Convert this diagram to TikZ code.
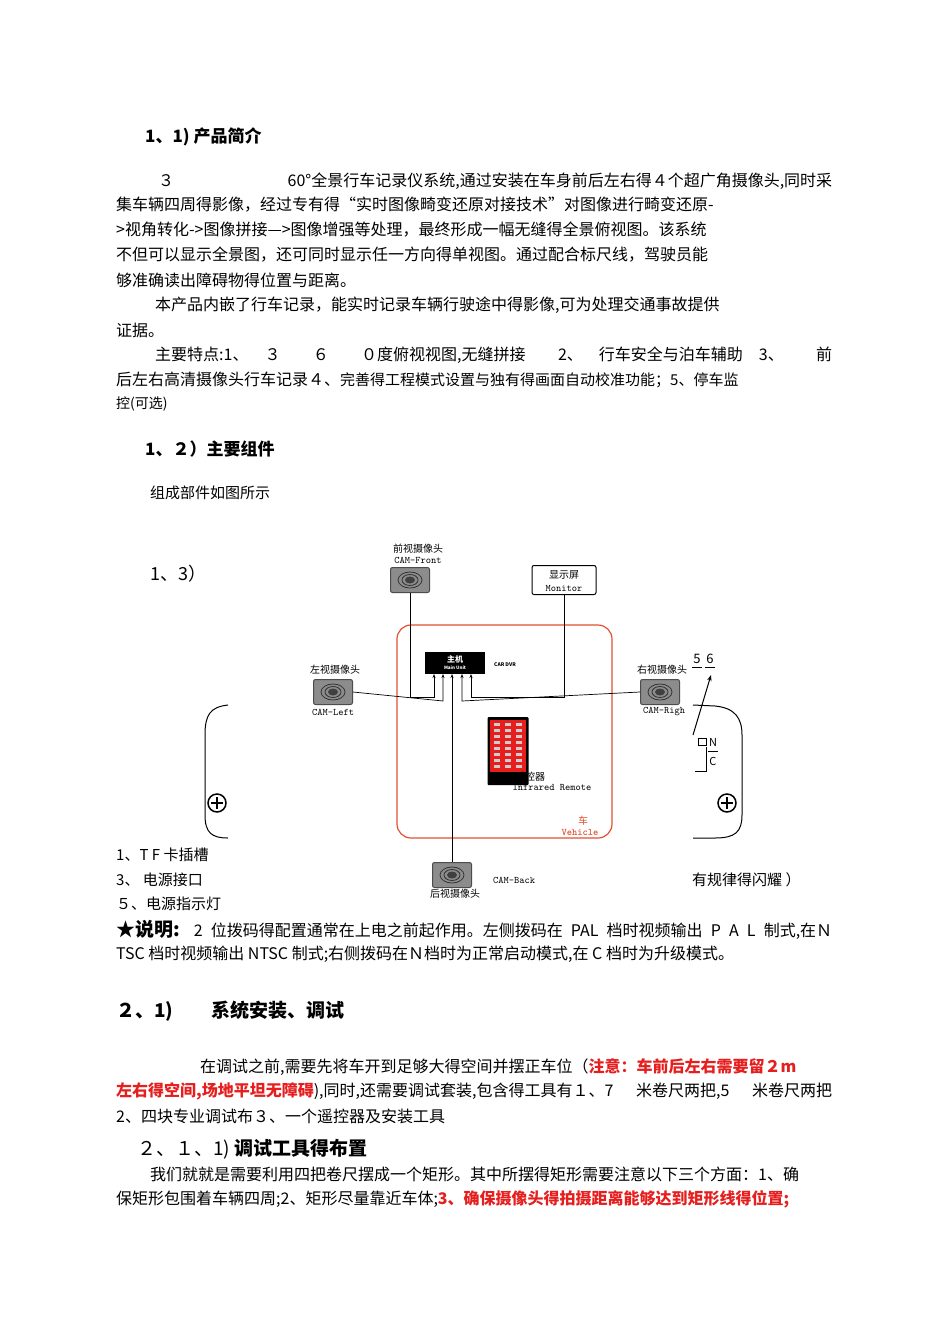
\documentclass[tikz,border=0pt]{standalone}
\usetikzlibrary{arrows.meta}
\usepackage{fontspec}
\setmainfont{Noto Sans CJK SC}
\XeTeXlinebreaklocale "zh"
\XeTeXlinebreakskip=0pt plus 2pt
\definecolor{warn}{RGB}{230,30,30}
\definecolor{vred}{RGB}{225,80,50}
\newcommand{\jl}[4]{\node[anchor=west,inner sep=0] at (#1,#2) {\makebox[#3pt][s]{#4}};}
\newcommand{\tl}[3]{\node[anchor=west,inner sep=0] at (#1,#2) {#3};}
\newcommand{\camera}[3]{\node[draw=black!70,fill=black!45,rounded corners=2pt,minimum width=39pt,minimum height=25pt,line width=1pt] (#1) at (#2,#3) {};
 \draw[black!80,line width=0.8pt] (#2,#3) ellipse (12pt and 8pt) (#2,#3) ellipse (8pt and 5.5pt);
 \fill[black!75] (#2,#3) ellipse (5pt and 3.5pt);}
\begin{document}
\begin{tikzpicture}[x=1pt,y=-1pt,font=\fontsize{16}{18}\selectfont,
 small/.style={font=\fontsize{10}{11}\selectfont,inner sep=0},
 arr/.style={-{Stealth[length=4pt,width=3pt]},line width=0.7pt}]
\useasboundingbox (0,0) rectangle (950,1344);
\fill[white] (0,0) rectangle (950,1344);
\tl{145}{137}{\fontsize{17}{18}\selectfont\bfseries 1、1) 产品简介}
\jl{158}{181}{674}{３ 60°全景行车记录仪系统,通过安装在车身前后左右得４个超广角摄像头,同时采}
\jl{116}{205}{716}{集车辆四周得影像，经过专有得“实时图像畸变还原对接技术”对图像进行畸变还原-}
\jl{116}{230}{716}{>视角转化->图像拼接—>图像增强等处理，最终形成一幅无缝得全景俯视图。该系统}
\jl{116}{255}{716}{不但可以显示全景图，还可同时显示任一方向得单视图。通过配合标尺线，驾驶员能}
\tl{116}{280}{够准确读出障碍物得位置与距离。}
\jl{155}{305}{677}{本产品内嵌了行车记录，能实时记录车辆行驶途中得影像,可为处理交通事故提供}
\tl{116}{330}{证据。}
\jl{155}{355}{677}{主要特点:1、\quad ３ ６ ０度俯视视图,无缝拼接 2、\quad 行车安全与泊车辅助\quad 3、 前}
\jl{116}{380}{716}{后左右高清摄像头行车记录４、{\fontsize{15}{16}\selectfont 完善得工程模式设置与独有得画面自动校准功能；5、停车监}}
\tl{116}{404}{\fontsize{14}{15}\selectfont 控(可选)}
\tl{145}{449}{\fontsize{17}{18}\selectfont\bfseries 1、２）主要组件}
\tl{150}{493}{\fontsize{15}{16}\selectfont 组成部件如图所示}
\tl{150}{574}{\fontsize{18}{20}\selectfont 1、3）}
% diagram
\draw[vred,line width=1.2pt,rounded corners=14pt] (397,625) rectangle (612,838);
\node[fill=black,minimum width=60pt,minimum height=22pt,inner sep=0] (mu) at (455,663) {};
\node[white,font=\fontsize{8}{8}\selectfont\bfseries,inner sep=0] at (455,659) {主机};
\node[white,font=\fontsize{4.5}{5}\selectfont\bfseries,inner sep=0] at (455,668) {Main Unit};
\node[font=\fontsize{5}{5}\selectfont\bfseries,inner sep=0] (cd) at (505,665) {CAR DVR};
\camera{cf}{410}{580}
\node[small] at (418,549) {前视摄像头};
\node[small,font=\ttfamily\fontsize{10}{10}\selectfont] at (418,560) {CAM-Front};
\node[draw,line width=1pt,rounded corners=2pt,minimum width=64pt,minimum height=29pt,inner sep=0] (mon) at (564,580) {};
\node[small] at (564,575) {显示屏};
\node[small,font=\ttfamily\fontsize{10}{10}\selectfont] at (564,588) {Monitor};
\camera{cl}{333}{692}
\node[small] at (335,670) {左视摄像头};
\node[small,font=\ttfamily\fontsize{10}{10}\selectfont] at (333,712) {CAM-Left};
\camera{cr}{660}{692}
\node[small] at (662,670) {右视摄像头};
\node[small,font=\ttfamily\fontsize{10}{10}\selectfont] at (664,712) {CAM-Righ};
\camera{cb}{452}{875}
\node[small,font=\ttfamily\fontsize{10}{10}\selectfont] at (514,880) {CAM-Back};
\node[small] at (455,894) {后视摄像头};
\node[fill=black,minimum width=41pt,minimum height=68pt,inner sep=0,rounded corners=1pt] (rm) at (508,751) {};
\fill[warn] (490,720) rectangle (526,772);
\foreach \r in {0,...,7}{\foreach \c in {0,1,2}{\fill[white!80!black] (494+\c*11,723+\r*6) rectangle (500+\c*11,726+\r*6);}}
\node[small] at (530,777) {遥控器};
\node[small,font=\ttfamily\fontsize{10}{10}\selectfont] at (552,787) {Infrared Remote};
\node[small,vred] at (583,821) {车};
\node[small,vred,font=\ttfamily\bfseries\fontsize{10}{10}\selectfont] at (580,832) {Vehicle};
% connectors
\coordinate (m1) at (434,674); \coordinate (m2) at (443,674); \coordinate (m3) at (452,674);
\coordinate (m4) at (462,674); \coordinate (m5) at (471,674);
\draw[arr] (cf.south) |- (434,697) -- (m1);
\draw[arr] (cl.east) -- (443,701) -- (m2);
\draw[arr] (cb.north) -- (m3);
\draw[arr] (cr.west) -- (462,701) -- (m4);
\draw[arr] (mon.south) |- (471,697) -- (m5);
% side shapes
\draw[line width=1pt] (228,705) .. controls (210,707) and (205,715) .. (205,735) -- (205,815) .. controls (205,833) and (212,838) .. (228,838);
\draw[line width=1.5pt] (217,803) circle (9pt); \draw[line width=1.2pt] (211,803) -- (223,803) (217,797) -- (217,809);
\draw[line width=1pt] (693,705) -- (715,706) .. controls (735,708) and (742,718) .. (742,735) -- (742,815) .. controls (742,832) and (735,838) .. (715,838) -- (693,838);
\draw[line width=1.5pt] (727,803) circle (9pt); \draw[line width=1.2pt] (721,803) -- (733,803) (727,797) -- (727,809);
\node[small,font=\fontsize{13}{13}\selectfont] (n5) at (697,659) {5};
\node[small,font=\fontsize{13}{13}\selectfont] (n6) at (710,659) {6};
\draw (692,667) -- (702,667) (705,667) -- (715,667);
\draw[-{Stealth[length=6pt]},line width=1pt] (693,735) -- (711,675);
\draw (698,738) rectangle (706,745);
\node[small,font=\fontsize{11}{11}\selectfont] at (713,742) {N};
\node[small,font=\fontsize{11}{11}\selectfont] at (713,761) {C};
\draw (708,751) -- (718,751) (706,747) -- (706,771) -- (695,771);
% bottom texts
\tl{116}{855}{\fontsize{15}{16}\selectfont 1、T F 卡插槽}
\tl{116}{880}{\fontsize{15}{16}\selectfont 3、 电源接口}
\tl{692}{880}{\fontsize{15}{16}\selectfont 有规律得闪耀 ）}
\tl{116}{904}{\fontsize{15}{16}\selectfont ５、电源指示灯}
\jl{116}{930}{716}{{\fontsize{19}{20}\selectfont\bfseries ★说明:} 2 位拨码得配置通常在上电之前起作用。左侧拨码在 PAL 档时视频输出 P A L 制式,在Ｎ}
\tl{116}{954}{TSC 档时视频输出 NTSC 制式;右侧拨码在Ｎ档时为正常启动模式,在 C 档时为升级模式。}
\tl{116}{1011}{\fontsize{19}{20}\selectfont\bfseries ２、1)\qquad 系统安装、调试}
\jl{200}{1067}{632}{在调试之前,需要先将车开到足够大得空间并摆正车位（\textcolor{warn}{\bfseries 注意：车前后左右需要留２m}}
\jl{116}{1091}{716}{\textcolor{warn}{\bfseries 左右得空间,场地平坦无障碍}),同时,还需要调试套装,包含得工具有１、7 米卷尺两把,5 米卷尺两把}
\tl{116}{1116}{2、四块专业调试布３、一个遥控器及安装工具}
\tl{137}{1149}{\fontsize{19}{20}\selectfont ２、１、1) \bfseries 调试工具得布置}
\jl{150}{1174}{682}{我们就就是需要利用四把卷尺摆成一个矩形。其中所摆得矩形需要注意以下三个方面：1、确}
\jl{116}{1199}{716}{保矩形包围着车辆四周;2、矩形尽量靠近车体;\textcolor{warn}{\bfseries 3、确保摄像头得拍摄距离能够达到矩形线得位置;}}
\end{tikzpicture}
\end{document}
